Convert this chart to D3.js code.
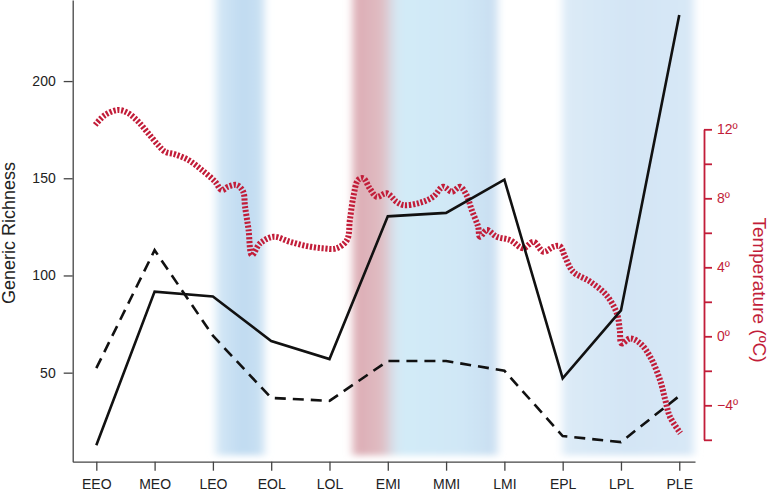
<!DOCTYPE html>
<html><head><meta charset="utf-8">
<script src="https://cdn.jsdelivr.net/npm/d3@7"></script>
<style>body{margin:0;background:#fff}svg{display:block;font-family:"Liberation Sans",Arial,Helvetica,sans-serif}</style>
</head><body><svg id="c" width="771" height="492"></svg>
<script>
// ---- data ----
const categories = ["EEO","MEO","LEO","EOL","LOL","EMI","MMI","LMI","EPL","LPL","PLE"];
const richnessSolid = [12.7, 91.7, 89.2, 66.3, 57, 130.4, 132.2, 149.3, 47.1, 82, 234];
const richnessDashed = [52.3, 113, 69, 37, 35.5, 56, 56, 51, 17.4, 14.3, 38];
const richnessTicks = [50, 100, 150, 200];
const tempTicks = [12, 10, 8, 6, 4, 2, 0, -2, -4, -6];
const tempTickLabels = ["12º", "", "8º", "", "4º", "", "0º", "", "−4º", ""];
// temperature curve: time in category-index units, temperature in ºC
const tempTime = [-0.02,0.15,0.38,0.55,0.72,0.89,1.06,1.18,1.35,1.58,1.81,2.04,2.15,2.26,2.41,2.52,2.55,2.61,2.67,2.81,3.04,3.32,3.61,3.89,4.12,4.30,4.35,4.41,4.49,4.58,4.69,4.81,4.98,5.15,5.27,5.55,5.78,5.95,6.10,6.24,6.35,6.44,6.55,6.58,6.70,6.87,7.10,7.32,7.50,7.67,7.84,7.95,8.04,8.18,8.47,8.75,8.93,8.98,9.01,9.16,9.33,9.50,9.67,9.76,9.84,10.02];
const tempValues = [12.25,12.83,13.12,12.93,12.44,11.77,11.09,10.70,10.55,10.22,9.64,8.96,8.48,8.67,8.77,8.38,7.55,6.22,4.71,5.39,5.77,5.48,5.23,5.10,5.10,5.58,6.74,8.09,9.06,9.16,8.58,8.09,8.29,7.80,7.61,7.74,8.09,8.67,8.38,8.67,8.19,7.32,6.35,5.77,6.16,5.77,5.58,5.10,5.48,4.90,5.19,5.23,4.61,3.74,3.17,2.39,1.33,0.37,-0.41,-0.12,-0.41,-1.18,-2.53,-3.69,-4.66,-5.62];
// shaded intervals (category-index units)
const bandStart = [2.05, 4.40, 8.00];
const bandEnd   = [2.88, 6.88, 10.25];

// ---- styles ----
const bandStops = [
  [[0,"#d5e8f6"],[0.55,"#c0dbf1"],[1,"#cae1f3"]],
  [[0,"#dcabb3"],[0.2,"#e0bcc2"],[0.3,"#d5e8f3"],[0.36,"#d2ebf8"],[0.75,"#d0e7f6"],[1,"#c9def1"]],
  [[0,"#dcebf7"],[0.5,"#d3e5f5"],[1,"#d8e8f6"]]
];
const RED = "#c21d39";

const svg = d3.select("#c");
const axisY = 461.7, leftX = 72.7, rightX = 704;

const x = d3.scaleLinear().domain([-0.405, 10.27]).range([leftX, 695]);
const yL = d3.scaleLinear().domain([4.2, 241.7]).range([axisY, 0]);
const yR = d3.scaleLinear().domain([-6, 12]).range([439.8, 129.3]);

const defs = svg.append("defs");
const f = defs.append("filter").attr("id","blur").attr("x","-50%").attr("y","-10%").attr("width","200%").attr("height","120%");
f.append("feGaussianBlur").attr("stdDeviation","4.5 3");
bandStops.forEach((st,i)=>{
  const g = defs.append("linearGradient").attr("id","bg"+i).attr("x1","0").attr("x2","1").attr("y1","0").attr("y2","0");
  st.forEach(s=>g.append("stop").attr("offset",s[0]).attr("stop-color",s[1]));
});

// bands
svg.append("g").selectAll("rect").data(bandStart).join("rect")
  .attr("x",(d,i)=>x(d)).attr("width",(d,i)=>x(bandEnd[i])-x(d))
  .attr("y",-20).attr("height",(yL(7.5))+20)
  .attr("fill",(d,i)=>"url(#bg"+i+")").attr("filter","url(#blur)");

// temperature curve
const tempLine = d3.line().x(d=>x(d[0])).y(d=>yR(d[1])).curve(d3.curveCatmullRom.alpha(0.5));
svg.append("path").datum(tempTime.map((t,i)=>[t,tempValues[i]]))
  .attr("d",tempLine).attr("fill","none").attr("stroke",RED)
  .attr("stroke-width",6).attr("stroke-dasharray","2.2,1.7");

// richness lines
const rLine = d3.line().x((d,i)=>x(i)).y(d=>yL(d));
svg.append("path").datum(richnessDashed).attr("d",rLine).attr("fill","none")
  .attr("stroke","#111").attr("stroke-width",2.6).attr("stroke-dasharray","11,7");
svg.append("path").datum(richnessSolid).attr("d",rLine).attr("fill","none")
  .attr("stroke","#111").attr("stroke-width",2.6);

// axes
const ax = svg.append("g").attr("transform",`translate(0,${axisY})`)
  .call(d3.axisBottom(x).tickValues(d3.range(categories.length)).tickFormat(i=>categories[i]).tickSize(9).tickSizeOuter(0).tickPadding(8));
const ay = svg.append("g").attr("transform",`translate(${leftX},0)`)
  .call(d3.axisLeft(yL).tickValues(richnessTicks).tickSize(9).tickSizeOuter(0).tickPadding(8));
[ax,ay].forEach(g=>{
  g.selectAll("path,line").attr("stroke","#444").attr("stroke-width",1.3);
  g.selectAll("text").attr("fill","#222").style("font-size","14px");
});

const ar = svg.append("g").attr("transform",`translate(${rightX},0)`)
  .call(d3.axisRight(yR).tickValues(tempTicks).tickFormat((d,i)=>tempTickLabels[i]).tickSize(8).tickSizeOuter(0).tickPadding(5));
ar.selectAll("path,line").attr("stroke",RED).attr("stroke-width",1.8);
ar.selectAll("text").attr("fill",RED).style("font-size","14px");

// titles
svg.append("text").attr("transform","translate(15,233) rotate(-90)").attr("text-anchor","middle")
  .attr("fill","#222").style("font-size","18px").text("Generic Richness");
svg.append("text").attr("transform","translate(753,290) rotate(90)").attr("text-anchor","middle")
  .attr("fill",RED).style("font-size","19px").text("Temperature (ºC)");
</script></body></html>
